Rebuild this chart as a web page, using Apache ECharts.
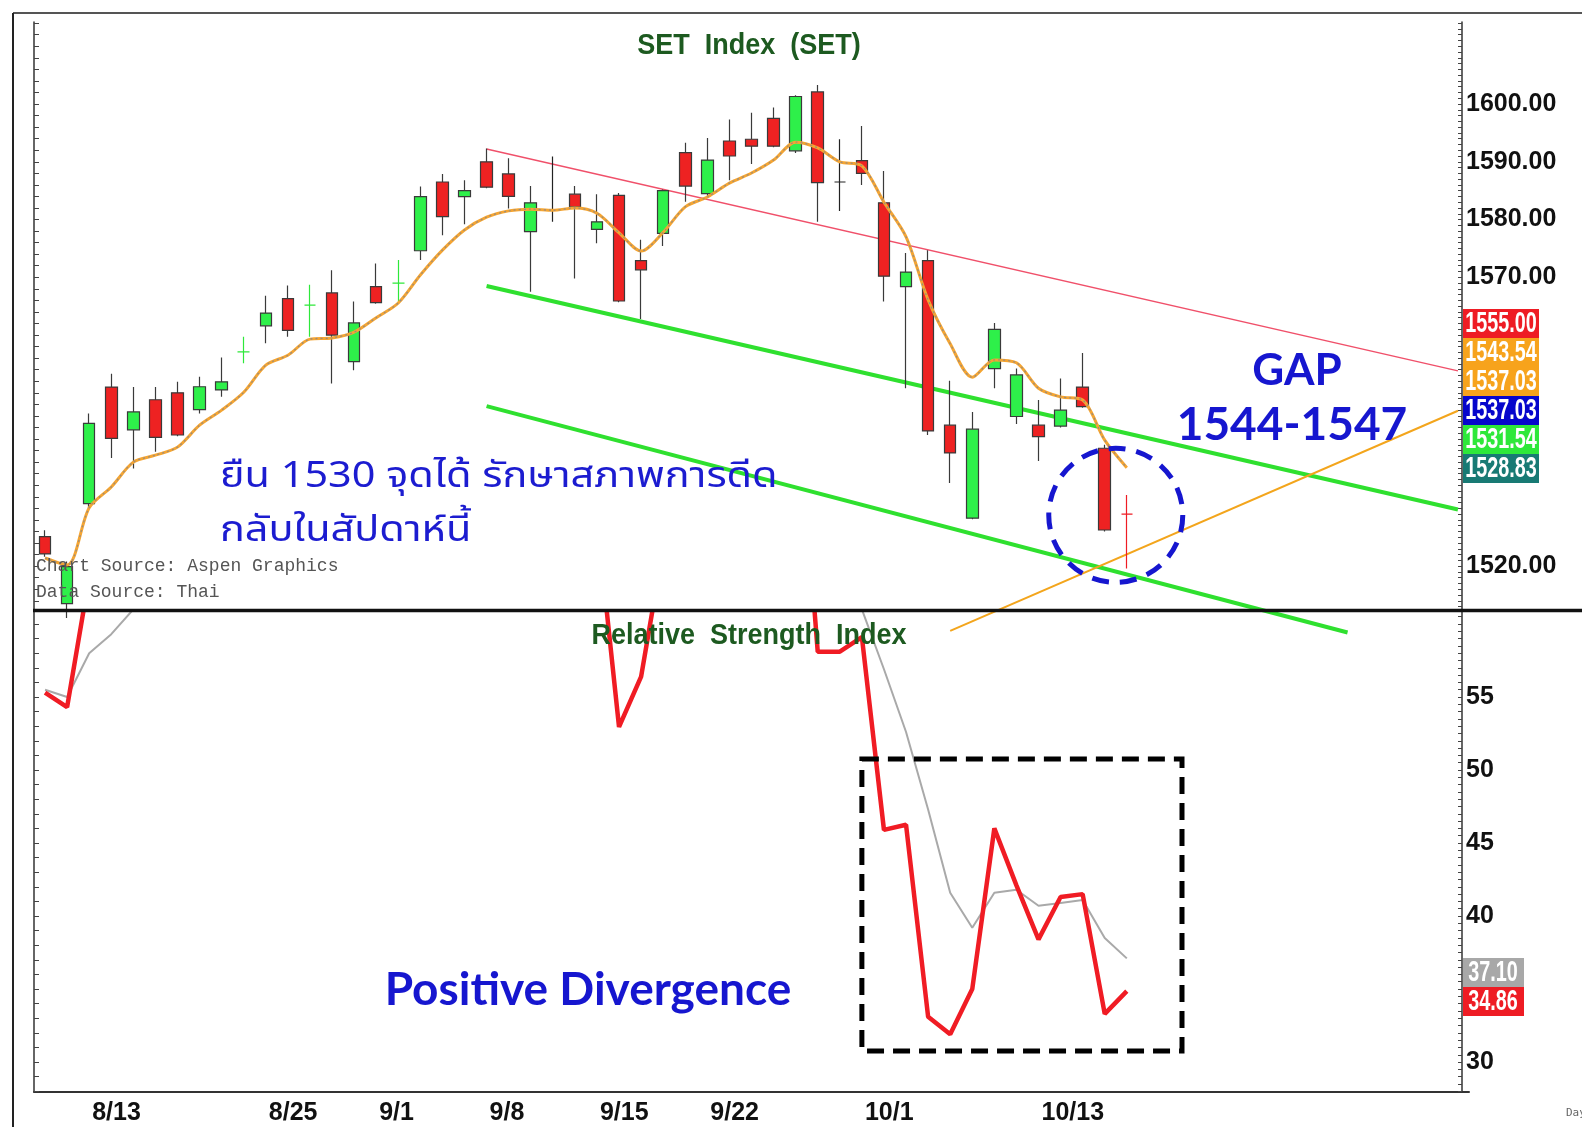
<!DOCTYPE html>
<html>
<head>
<meta charset="utf-8">
<title>SET Index (SET)</title>
<script src="https://cdn.jsdelivr.net/npm/echarts@6/dist/echarts.min.js"></script>
<style>
  html, body { margin: 0; padding: 0; background: #fff; }
  #main { width: 1582px; height: 1127px; }
</style>
</head>
<body>
<div id="main"></div>
<script>
// วันทำการ (2014) + วันว่างทางขวาของกราฟ
var dates = ['8/8','8/11','8/13','8/14','8/15','8/18','8/19','8/20','8/21','8/22',
  '8/25','8/26','8/27','8/28','8/29','9/1','9/2','9/3','9/4','9/5',
  '9/8','9/9','9/10','9/11','9/12','9/15','9/16','9/17','9/18','9/19',
  '9/22','9/23','9/24','9/25','9/26','9/29','9/30','10/1','10/2','10/3',
  '10/6','10/7','10/8','10/9','10/10','10/13','10/14','10/15','10/16','10/17',
  '10/20','10/21','10/22','10/24','10/27','10/28','10/29','10/30','10/31','11/3',
  '11/4','11/5','11/6','11/7','11/10']

var opens = [1525.1,1513.5,1530.8,1551.0,1543.6,1548.8,1550.0,1547.1,1550.5,1557.1,
  1561.6,1566.3,1565.2,1567.3,1555.4,1568.4,1569.0,1574.6,1586.5,1583.95,
  1590.0,1587.9,1577.9,1581.6,1584.4,1578.3,1584.2,1572.9,1577.6,1591.6,
  1584.5,1593.6,1593.9,1597.5,1591.9,1602.1,1586.5,1590.2,1582.9,1568.4,
  1572.9,1544.4,1528.3,1554.2,1545.9,1544.4,1544.25,1551.0,1540.4,1529.0]
var closes = [1522.1,1519.9,1544.7,1542.1,1546.7,1542.3,1542.7,1551.05,1551.9,1557.1,
  1563.8,1560.8,1565.2,1560.0,1562.1,1565.6,1569.0,1583.95,1580.5,1585.0,
  1585.6,1584.0,1582.9,1581.6,1582.2,1579.6,1565.9,1571.3,1585.0,1585.8,
  1590.3,1591.0,1592.7,1592.7,1601.3,1586.4,1586.5,1588.0,1570.2,1570.9,
  1543.4,1539.6,1543.7,1561.0,1553.1,1542.4,1547.0,1547.6,1526.25,1529.0]
var lows = [1521.6,1511.0,1530.0,1538.7,1536.9,1539.8,1542.5,1546.4,1549.3,1555.1,
  1558.6,1559.7,1559.7,1551.6,1553.9,1565.4,1565.6,1573.0,1577.3,1579.2,
  1585.4,1581.9,1567.5,1579.6,1569.8,1575.9,1565.7,1562.8,1575.4,1583.1,
  1583.95,1586.8,1589.6,1592.5,1591.5,1579.6,1581.5,1586.0,1565.8,1550.8,
  1542.7,1534.4,1528.1,1550.8,1544.6,1538.2,1544.0,1547.4,1526.0,1519.6]
var highs = [1526.2,1520.8,1546.4,1553.3,1551.0,1551.0,1551.9,1552.8,1556.1,1559.7,
  1566.8,1568.6,1568.7,1571.2,1565.8,1572.4,1573.0,1585.7,1587.9,1586.8,
  1592.3,1590.6,1585.8,1590.9,1585.8,1584.4,1584.6,1576.5,1585.2,1593.3,
  1594.1,1597.3,1598.5,1599.4,1601.5,1603.3,1593.9,1596.2,1588.4,1574.2,
  1574.7,1552.1,1546.7,1562.1,1554.2,1548.75,1552.5,1556.9,1541.0,1532.3]

// เส้นค่าเฉลี่ย
var maLine = [1521.4,1520.2,1530.1,1533.7,1538.0,1539.2,1540.6,1544.4,1547.0,1550.1,
  1554.8,1556.5,1559.3,1559.5,1560.5,1563.0,1565.55,1570.4,1574.7,1578.2,
  1580.4,1581.5,1581.8,1581.6,1582.0,1581.1,1577.7,1574.55,1577.8,1582.2,
  1583.9,1586.3,1588.05,1590.3,1593.4,1592.4,1590.0,1589.3,1583.0,1577.0,
  1566.1,1558.5,1552.7,1555.7,1555.2,1550.8,1549.3,1548.75,1541.8,1537.03]

// RSI (ค่าที่เกินกรอบด้านบนเป็นค่าประมาณ)
var rsi = [55.3,54.3,63.2,64,66,65,65,68,69,72,
  75,72,73,70,71,72,73,78,75,76,
  74,72,71,70,69,67.2,52.95,56.4,65.2,69,
  71,72,73,74,77.5,58.1,58.1,59.1,45.9,46.25,
  33.1,31.9,35.0,46.0,42.1,38.4,41.3,41.5,33.3,34.86]
var rsiSignal = [55.5,55.0,58.0,59.3,61.0,62,63,64,65,66,
  67,68,69,70,71,72,72,73,73,73,
  73,72,72,71,70,69,66,64,64,65,
  66,67,68,69,70,68,66,61.0,56.9,52.6,
  47.3,41.6,39.2,41.6,41.8,40.7,40.9,41.1,38.5,37.10]

var priceTicks = [1520, 1570, 1580, 1590, 1600]
var rsiTicks = [30, 40, 45, 50, 55]
var dateTicks = ['8/13','8/25','9/1','9/8','9/15','9/22','10/1','10/13']
var crossDays = { '8/22': '#2ee83a', '8/27': '#2ee83a', '9/2': '#2ee83a', '9/11': '#222', '9/30': '#222', '10/17': '#ee1c24' }

// เส้นแนวโน้ม [วันที่, ราคา]
var redLine = [['9/8', 1592.2], ['11/10', 1553.8]]
var greenUpper = [['9/8', 1568.5], ['11/10', 1529.8]]
var greenLower = [['9/8', 1547.7], ['11/3', 1508.5]]
var orangeLine = [['10/7', 1508.8], ['11/10', 1546.9]]

var priceBoxes = [['1555.00', '#ee1c24'], ['1543.54', '#f7a31c'], ['1537.03', '#f7a31c'],
  ['1537.03', '#0606cc'], ['1531.54', '#2ee83a'], ['1528.83', '#187a74']]
var rsiBoxes = [['37.10', '#a8a8a8'], ['34.86', '#ee1c24']]

var SANS = '"Liberation Sans", Arial, sans-serif'
var THAI = '"Noto Sans Thai", "Noto Sans Thai UI", Tahoma, "Noto Sans", sans-serif'
var CALI = 'Lato, "Open Sans", sans-serif'

var candles = []
for (var i = 0; i < opens.length; i++) {
  var item = { value: [opens[i], closes[i], lows[i], highs[i]] }
  var cc = crossDays[dates[i]]
  if (cc) item.itemStyle = { borderColor: cc, borderColor0: cc, borderColorDoji: cc }
  candles.push(item)
}

function ticksEvery(from, to, step) {
  var out = []
  for (var v = from; v <= to + 1e-9; v += step) out.push(Math.round(v * 100) / 100)
  return out
}
function isDateTick(idx, val) { return dateTicks.indexOf(val) >= 0 }

var myChart = echarts.init(document.getElementById('main'))

var labelFont = { fontSize: 25, fontWeight: 'bold', fontFamily: SANS, color: '#111' }

var option = {
  animation: false,
  backgroundColor: '#fff',
  grid: [
    { left: 34, right: 113, top: 22, height: 588 },
    { left: 34, right: 113, top: 612, height: 480 }
  ],
  xAxis: [
    { type: 'category', gridIndex: 0, data: dates, show: false },
    {
      type: 'category', gridIndex: 1, data: dates,
      axisLine: { lineStyle: { color: '#333', width: 2 } },
      axisTick: { interval: isDateTick, alignWithLabel: true, length: 36, lineStyle: { color: '#777' } },
      axisLabel: Object.assign({ interval: isDateTick, align: 'left', margin: 9, padding: [0, 0, 0, 3] }, labelFont)
    }
  ],
  yAxis: [
    {
      type: 'value', gridIndex: 0, position: 'right', offset: -7, min: 1512.4, max: 1614.2,
      splitLine: { show: false },
      axisLine: { show: true, lineStyle: { color: '#333', width: 1.5 } },
      axisTick: { show: true, inside: true, length: 4, customValues: ticksEvery(1513, 1614, 1), lineStyle: { color: '#444' } },
      axisLabel: Object.assign({ customValues: priceTicks, formatter: function (v) { return v.toFixed(2) }, margin: 4 }, labelFont)
    },
    {
      type: 'value', gridIndex: 0, position: 'left', min: 1512.4, max: 1614.2,
      splitLine: { show: false },
      axisLine: { show: true, lineStyle: { color: '#333', width: 1.5 } },
      axisTick: { show: true, inside: true, length: 5, customValues: ticksEvery(1514, 1614, 2), lineStyle: { color: '#444' } },
      axisLabel: { show: false }
    },
    {
      type: 'value', gridIndex: 1, position: 'right', offset: -7, min: 27.95, max: 60.82,
      splitLine: { show: false },
      axisLine: { show: true, lineStyle: { color: '#333', width: 1.5 } },
      axisTick: { show: true, inside: true, length: 4, customValues: ticksEvery(28, 60.5, 0.5), lineStyle: { color: '#444' } },
      axisLabel: Object.assign({ customValues: rsiTicks, margin: 4 }, labelFont)
    },
    {
      type: 'value', gridIndex: 1, position: 'left', min: 27.95, max: 60.82,
      splitLine: { show: false },
      axisLine: { show: true, lineStyle: { color: '#333', width: 1.5 } },
      axisTick: { show: true, inside: true, length: 5, customValues: ticksEvery(28, 60, 1), lineStyle: { color: '#444' } },
      axisLabel: { show: false }
    }
  ],
  series: [
    {
      name: 'redTrend', type: 'line', xAxisIndex: 0, yAxisIndex: 0, data: redLine,
      symbol: 'none', clip: false, lineStyle: { color: '#f0506a', width: 1.5 }, z: 2
    },
    {
      name: 'greenUpper', type: 'line', xAxisIndex: 0, yAxisIndex: 0, data: greenUpper,
      symbol: 'none', clip: false, lineStyle: { color: '#2fe02f', width: 4 }, z: 2
    },
    {
      name: 'greenLower', type: 'line', xAxisIndex: 0, yAxisIndex: 0, data: greenLower,
      symbol: 'none', clip: false, lineStyle: { color: '#2fe02f', width: 4 }, z: 2
    },
    {
      name: 'orangeTrend', type: 'line', xAxisIndex: 0, yAxisIndex: 0, data: orangeLine,
      symbol: 'none', clip: false, lineStyle: { color: '#f3a51c', width: 2 }, z: 2
    },
    {
      name: 'SET', type: 'candlestick', xAxisIndex: 0, yAxisIndex: 0, data: candles,
      barWidth: 12, z: 3,
      itemStyle: {
        color: '#2ef04a', color0: '#ee2222',
        borderColor: '#3a3a3a', borderColor0: '#3a3a3a', borderWidth: 1.2
      }
    },
    {
      name: 'MA', type: 'line', xAxisIndex: 0, yAxisIndex: 0, data: maLine,
      symbol: 'none', smooth: 0.3, lineStyle: { color: '#f5a532', width: 3 }, z: 4
    },
    {
      name: 'MA2', type: 'line', xAxisIndex: 0, yAxisIndex: 0, data: maLine,
      symbol: 'none', smooth: 0.3, lineStyle: { color: '#9a8c7c', width: 1.3, type: [2, 3] }, z: 5
    },
    {
      name: 'RSI signal', type: 'line', xAxisIndex: 1, yAxisIndex: 2, data: rsiSignal,
      symbol: 'none', lineStyle: { color: '#a9a9a9', width: 2 }, z: 3
    },
    {
      name: 'RSI', type: 'line', xAxisIndex: 1, yAxisIndex: 2, data: rsi,
      symbol: 'none', lineStyle: { color: '#f01c24', width: 4.5 }, z: 4
    }
  ]
}

myChart.setOption(option)

// ป้ายและรูปวาดประกอบ
function px(axis, pair) {
  var f = axis === 0 ? { xAxisIndex: 0, yAxisIndex: 0 } : { xAxisIndex: 1, yAxisIndex: 2 }
  return myChart.convertToPixel(f, pair)
}
var c1 = px(0, ['10/16', 1528.8])
var c2 = px(0, ['10/17', 1528.8])
var b1 = px(1, ['10/1', 50.75])
var b2 = px(1, ['10/21', 30.76])
var b3 = px(1, ['10/22', 30.76])

function txt(x, y, s, fill, font, align, sx) {
  return {
    type: 'text', x: x, y: y, z: 20, scaleX: sx || 1,
    style: { text: s, fill: fill, font: font, textAlign: align || 'center', textVerticalAlign: 'middle' }
  }
}

var g = []
// frame
g.push({ type: 'line', shape: { x1: 13, y1: 13, x2: 1582, y2: 13 }, style: { stroke: '#555', lineWidth: 2 }, z: 10 })
g.push({ type: 'line', shape: { x1: 13, y1: 13, x2: 13, y2: 1127 }, style: { stroke: '#222', lineWidth: 2 }, z: 10 })
g.push({ type: 'line', shape: { x1: 33, y1: 610.5, x2: 1582, y2: 610.5 }, style: { stroke: '#111', lineWidth: 3.5 }, z: 10 })

g.push(txt(749, 46, 'SET  Index  (SET)', '#1d5a20', 'bold 30px ' + SANS, 'center', 0.9))
g.push(txt(749, 636, 'Relative  Strength  Index', '#1d5a20', 'bold 30px ' + SANS, 'center', 0.9))

g.push(txt(220, 480, 'ยืน 1530 จุดได้ รักษาสภาพการดีด', '#1c1cd0', '36px ' + THAI, 'left', 1.15))
g.push(txt(220, 534, 'กลับในสัปดาห์นี้', '#1c1cd0', '36px ' + THAI, 'left', 1.15))

g.push(txt(1297, 371, 'GAP', '#1616cf', 'bold 44px ' + CALI))
g.push(txt(1292, 425, '1544-1547', '#1616cf', 'bold 46px ' + CALI))
g.push(txt(588, 990, 'Positive Divergence', '#1616cf', 'bold 46px ' + CALI))

g.push(txt(36, 566, 'Chart Source: Aspen Graphics', '#555', '18px "Liberation Mono", "DejaVu Sans Mono", monospace', 'left'))
g.push(txt(36, 592, 'Data Source: Thai', '#555', '18px "Liberation Mono", "DejaVu Sans Mono", monospace', 'left'))
g.push(txt(1566, 1113, 'Day', '#666', '11px "DejaVu Sans Mono", monospace', 'left'))

// ป้ายราคาล่าสุด
priceBoxes.forEach(function (b, k) {
  g.push({ type: 'rect', shape: { x: 1463, y: 309 + k * 29, width: 76, height: 29 }, style: { fill: b[1] }, z: 15 })
  g.push(txt(1501, 324 + k * 29, b[0], '#fff', 'bold 30px ' + SANS, 'center', 0.66))
})
rsiBoxes.forEach(function (b, k) {
  g.push({ type: 'rect', shape: { x: 1463, y: 958 + k * 29, width: 61, height: 29 }, style: { fill: b[1] }, z: 15 })
  g.push(txt(1493, 973 + k * 29, b[0], '#fff', 'bold 30px ' + SANS, 'center', 0.66))
})

// วงกลม GAP
g.push({ type: 'circle', shape: { cx: (c1[0] + c2[0]) / 2, cy: c1[1], r: 67 }, style: { fill: 'none', stroke: '#1616cf', lineWidth: 5, lineDash: [17, 11] }, z: 12 })
// กรอบ divergence
var bx = b1[0], by = b1[1], bw = (b2[0] + b3[0]) / 2 - b1[0], bh = b2[1] - b1[1]
g.push({ type: 'rect', shape: { x: bx, y: by, width: bw, height: bh }, style: { fill: 'none', stroke: '#000', lineWidth: 5, lineDash: [17, 9] }, z: 12 })

myChart.setOption({ graphic: g })
</script>
</body>
</html>
